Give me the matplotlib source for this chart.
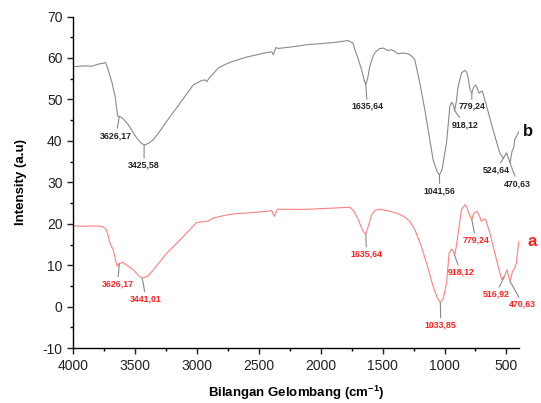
import numpy as np
import matplotlib
matplotlib.use("Agg")
import matplotlib.pyplot as plt

plt.rcParams['font.family'] = ['Liberation Sans', 'DejaVu Sans']
plt.rcParams['mathtext.default'] = 'regular'
plt.rcParams['axes.unicode_minus'] = False

# FTIR spectrum b (gray), wavenumber (cm-1) vs intensity
wn_b = [4000, 3900, 3850, 3800, 3760, 3740, 3725, 3700, 3687, 3660, 3640,
        3626.17, 3600, 3554, 3486, 3450, 3425.58, 3390, 3352, 3300, 3244, 3136, 3029,
        2960, 2934, 2920, 2900, 2868, 2827, 2760, 2707, 2600, 2438, 2395, 2383,
        2362, 2340, 2200, 2114, 1900, 1778, 1740, 1724, 1700, 1670, 1650,
        1635.64, 1620, 1603, 1580, 1563, 1530, 1496, 1470, 1455, 1430, 1401,
        1374, 1340, 1290, 1260, 1240, 1200, 1159, 1120, 1092, 1060, 1041.56,
        1020, 984, 957, 943, 930, 918.12, 905, 890, 863, 836, 820, 809, 795,
        779.24, 765, 747, 721, 700, 693, 667, 608, 554, 524.64, 500, 485,
        470.63, 455, 440, 433, 420, 400]
int_b = [57.9, 58.1, 58.0, 58.5, 58.7, 58.9, 58.0, 55.5, 54.3, 50.7, 46.0,
         45.9, 45.5, 43.9, 40.7, 39.5, 39.0, 39.4, 40.3, 42.3, 44.7, 49.1, 53.5,
         54.6, 54.7, 54.3, 55.2, 56.2, 57.6, 58.6, 59.2, 60.2, 61.3, 61.5, 60.8,
         62.5, 62.3, 62.8, 63.2, 63.7, 64.2, 63.6, 62.0, 60.0, 57.2, 54.8,
         53.5, 55.2, 58.0, 60.2, 61.3, 62.2, 62.4, 62.0, 61.8, 62.0, 61.6,
         61.0, 61.2, 61.0, 60.3, 59.6, 54.0, 47.5, 40.5, 35.4, 32.6, 31.8,
         33.0, 39.5, 48.3, 49.3, 48.8, 47.3, 49.5, 53.1, 56.4, 57.0, 56.6, 55.2, 52.5,
         51.5, 53.0, 53.5, 51.5, 52.0, 51.9, 49.1, 42.7, 37.1, 35.8, 37.1, 36.0,
         34.6, 37.5, 38.5, 40.3, 41.0, 42.3]

# FTIR spectrum a (red)
wn_a = [4000, 3900, 3800, 3760, 3734, 3715, 3701, 3675, 3647, 3640, 3626.17,
        3600, 3560, 3513, 3470, 3441.01, 3400, 3351, 3300, 3244, 3136, 3060,
        3002, 2921, 2900, 2868, 2780, 2707, 2600, 2438, 2396, 2375, 2350,
        2200, 2114, 1900, 1764, 1730, 1697, 1670, 1650, 1635.64, 1615, 1589,
        1560, 1522, 1450, 1388, 1330, 1280, 1240, 1190, 1145, 1092, 1060,
        1033.85, 1010, 984, 963, 943, 930, 918.12, 905, 890, 863, 835, 820,
        804, 779.24, 765, 737, 720, 702, 680, 667, 634, 580, 540, 516.92,
        495, 485, 470.63, 451, 433, 420, 400]
int_a = [19.5, 19.4, 19.5, 19.3, 18.7, 17.0, 15.3, 13.7, 10.1, 9.8, 10.4,
         10.7, 9.9, 8.9, 7.5, 6.9, 7.3, 8.9, 10.8, 12.9, 16.1, 18.5,
         20.3, 20.6, 20.8, 21.4, 22.0, 22.4, 22.6, 23.0, 23.2, 21.8, 23.5,
         23.5, 23.5, 23.8, 24.0, 23.0, 21.0, 19.0, 17.9, 17.5, 19.5, 22.2,
         23.3, 23.5, 23.1, 22.6, 21.8, 20.6, 18.6, 14.8, 10.5, 4.9, 2.3,
         0.9, 2.0, 5.7, 12.9, 13.9, 13.5, 12.4, 14.5, 17.8, 23.4, 24.6, 24.0,
         22.5, 21.0, 22.5, 23.0, 22.0, 20.6, 21.2, 21.0, 17.8, 11.3, 6.6, 7.3,
         8.9, 7.5, 6.1, 8.5, 9.3, 10.5, 15.7]

# peak labels: wavenumber, label text x, label text y
peaks_b = [(3626.17, 3653, 41.3), (3425.58, 3427, 34.1), (1635.64, 1623, 48.3),
           (1041.56, 1038, 28.0), (918.12, 836, 43.9), (779.24, 780, 48.3),
           (524.64, 586, 32.9), (470.63, 408, 29.7)]
peaks_a = [(3626.17, 3641, 5.5), (3441.01, 3411, 1.9), (1635.64, 1630, 12.7),
           (1033.85, 1030, -4.4), (918.12, 869, 8.3), (779.24, 748, 16.0),
           (516.92, 586, 3.0), (470.63, 368, 0.6)]

fig = plt.figure(figsize=(5.41, 4.03), dpi=100)
ax = fig.add_axes([0.135, 0.136, 0.824, 0.823])

ax.plot(wn_b, int_b, color='#8a8a8a', lw=0.8)
ax.plot(wn_a, int_a, color='#ff8080', lw=0.8)


def label_peaks(wn, vals, peaks, color):
    x = np.array(wn)[::-1]
    y = np.array(vals)[::-1]
    for p, tx, ty in peaks:
        py = np.interp(p, x, y)
        ax.annotate(f"{p:.2f}".replace('.', ','), xy=(p, py), xytext=(tx, ty),
                    ha='center', va='center', fontsize=6.3, fontweight='bold',
                    color=color, annotation_clip=False,
                    arrowprops=dict(arrowstyle='-', color='#888888', lw=0.8,
                                    shrinkA=0, shrinkB=0))


label_peaks(wn_b, int_b, peaks_b, '#222222')
label_peaks(wn_a, int_a, peaks_a, '#ff2020')

ax.text(328, 42.3, 'b', ha='center', va='center', fontsize=12,
        fontweight='bold', color='#111111', clip_on=False)
ax.text(296, 15.7, 'a', ha='center', va='center', fontsize=12,
        fontweight='bold', color='#ff2020', clip_on=False)

ax.set_xlim(4000, 400)
ax.set_ylim(-10, 70)
ax.set_xticks(np.arange(4000, 399, -500))
ax.set_xticks(np.arange(3750, 399, -500), minor=True)
ax.set_yticks(np.arange(-10, 71, 10))
ax.set_yticks(np.arange(-5, 70, 10), minor=True)

for s in ['top', 'right']:
    ax.spines[s].set_visible(False)
for s in ['left', 'bottom']:
    ax.spines[s].set_linewidth(1.0)
ax.tick_params(which='major', direction='out', length=4, width=1.0,
               labelsize=10, colors='#222222')
ax.tick_params(which='minor', direction='out', length=2.5, width=1.0)

ax.set_xlabel('Bilangan Gelombang (cm$^{-1}$)', fontsize=9.5,
              fontweight='bold', labelpad=8)
ax.set_ylabel('Intensity (a.u)', fontsize=9.5, fontweight='bold', labelpad=11)

fig.savefig('out.png', dpi=100)
